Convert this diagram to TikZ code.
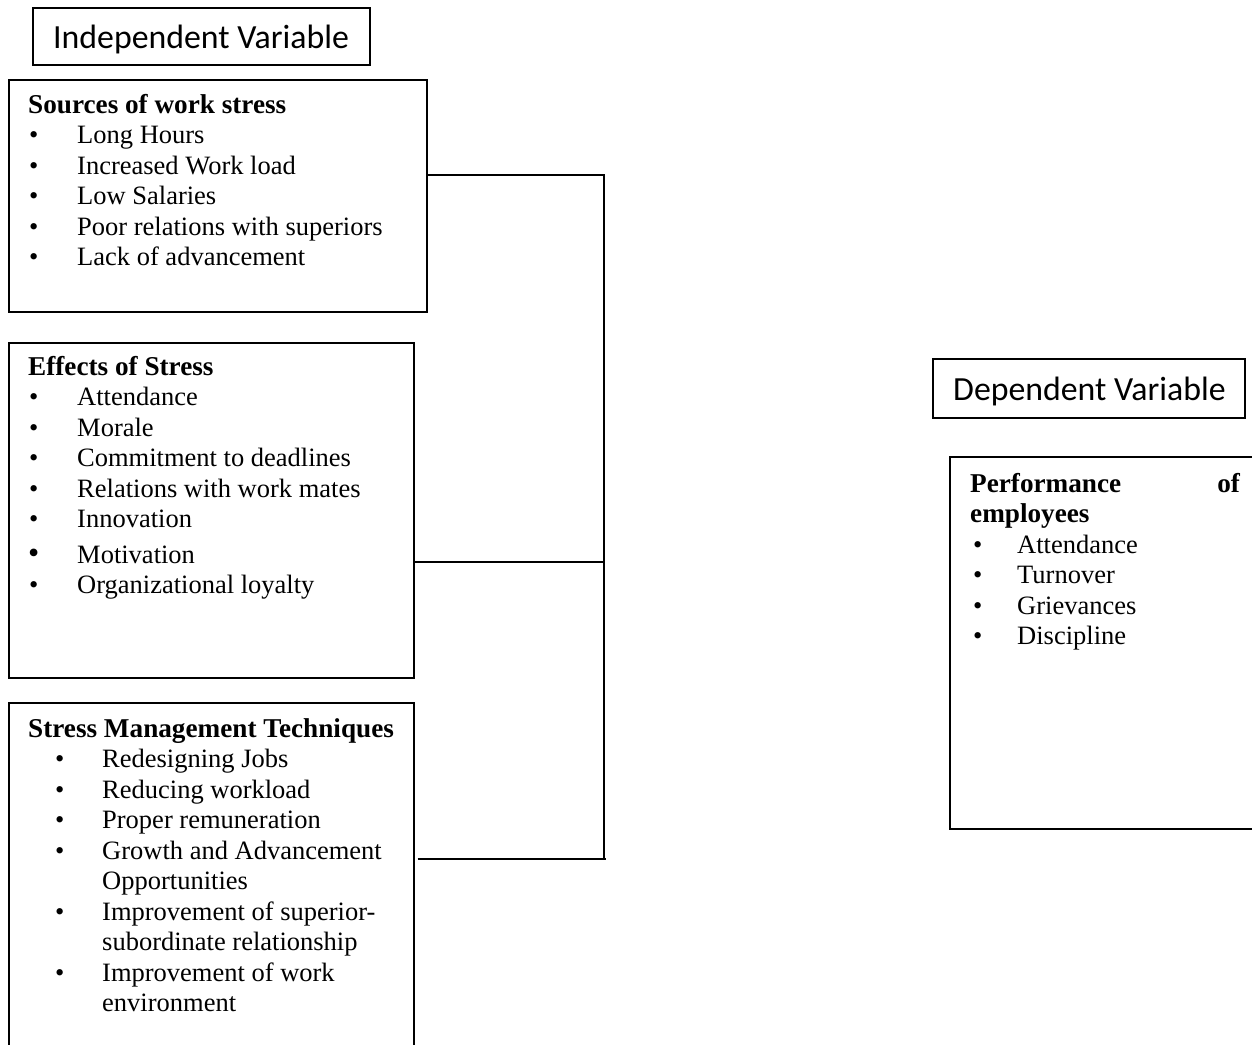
\documentclass[tikz,border=0pt]{standalone}
\usepackage{fontspec}
\setmainfont{Liberation Serif}
\newfontfamily\hdrfont{Carlito}
\newcommand\itm[3]{\makebox[#2][l]{\hspace*{#1}\textbullet}#3}
\newcommand\itmbig[3]{\makebox[#2][l]{\hspace*{#1}{\fontsize{32}{30.5}\selectfont\textbullet}}#3}
\newcommand\hd[1]{{\fontsize{27.2}{30.5}\selectfont\textbf{#1}}}
\begin{document}
\begin{tikzpicture}[x=1pt,y=-1pt,
  boxst/.style={draw, line width=1.5pt, inner sep=0pt, anchor=north west},
  txt/.style={anchor=base west, inner sep=0pt, font=\fontsize{26.5}{30.5}\selectfont},
  hdr/.style={anchor=base west, inner sep=0pt, font=\hdrfont\fontsize{33.8}{40}\selectfont},
  link/.style={line width=1.5pt}]
\useasboundingbox (0,0) rectangle (1252,1044);
\fill[white] (0,0) rectangle (1252,1044);

% header boxes
\node[boxst, minimum width=337pt, minimum height=57pt] (ind) at (32,7) {};
\node[hdr] (indt) at (53,48) {Independent Variable};
\node[boxst, minimum width=312pt, minimum height=59pt] (dep) at (932,358) {};
\node[hdr] (dept) at (953,400) {Dependent Variable};

% content boxes
\node[boxst, minimum width=418pt, minimum height=232pt] (src) at (8,79) {};
\node[boxst, minimum width=405pt, minimum height=335pt] (eff) at (8,342) {};
\node[boxst, minimum width=405pt, minimum height=400pt] (smt) at (8,702) {};
\node[boxst, minimum width=330pt, minimum height=372pt] (perf) at (949,456) {};

\node[txt] (srct) at (28,113) {\parbox[t]{395pt}{%
\hd{Sources of work stress}\\
\itm{1pt}{49pt}{Long Hours}\\
\itm{1pt}{49pt}{Increased Work load}\\
\itm{1pt}{49pt}{Low Salaries}\\
\itm{1pt}{49pt}{Poor relations with superiors}\\
\itm{1pt}{49pt}{Lack of advancement}}};

\node[txt] (efft) at (28,375) {\parbox[t]{380pt}{%
\hd{Effects of Stress}\\
\itm{1pt}{49pt}{Attendance}\\
\itm{1pt}{49pt}{Morale}\\
\itm{1pt}{49pt}{Commitment to deadlines}\\
\itm{1pt}{49pt}{Relations with work mates}\\
\itm{1pt}{49pt}{Innovation}\\[5pt]
\itmbig{0pt}{49pt}{Motivation}\\
\itm{1pt}{49pt}{Organizational loyalty}}};

\node[txt] (smtt) at (28,737) {\parbox[t]{380pt}{%
\hd{Stress Management Techniques}\\
\itm{27pt}{74pt}{Redesigning Jobs}\\
\itm{27pt}{74pt}{Reducing workload}\\
\itm{27pt}{74pt}{Proper remuneration}\\
\itm{27pt}{74pt}{Growth and Advancement}\\
\hspace*{74pt}Opportunities\\
\itm{27pt}{74pt}{Improvement of superior-}\\
\hspace*{74pt}subordinate relationship\\
\itm{27pt}{74pt}{Improvement of work}\\
\hspace*{74pt}environment}};

\node[txt] (perft) at (970,492) {\parbox[t]{280pt}{%
\makebox[270pt][s]{\hd{Performance}\hfill\hd{of}}\\
\hd{employees}\\
\itm{3pt}{47pt}{Attendance}\\
\itm{3pt}{47pt}{Turnover}\\
\itm{3pt}{47pt}{Grievances}\\
\itm{3pt}{47pt}{Discipline}}};

% connectors
\coordinate (j1) at (604,175);
\coordinate (j2) at (604,562);
\coordinate (j3) at (604,859);
\draw[link] (src.east |- j1) -- (j1) -- (j3);
\draw[link] (eff.east |- j2) -- (j2);
\draw[link] ([xshift=3pt]smt.east |- j3) -- ([xshift=2pt]j3);
\end{tikzpicture}
\end{document}
